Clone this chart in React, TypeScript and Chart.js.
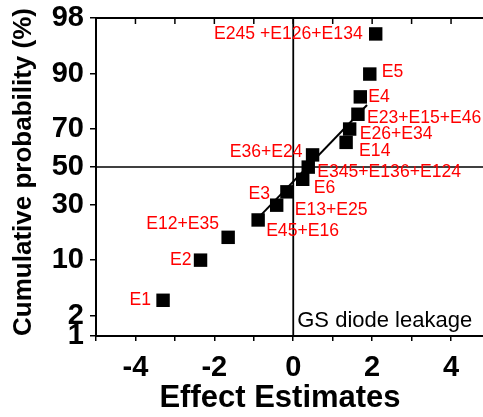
import React, { useEffect, useRef } from 'react';
import { Chart, registerables } from 'chart.js';

Chart.register(...registerables);

// ---- data ----
const effectLabels = [
  'E1', 'E2', 'E12+E35', 'E45+E16', 'E13+E25', 'E3', 'E6', 'E345+E136+E124',
  'E36+E24', 'E14', 'E26+E34', 'E23+E15+E46', 'E4', 'E5', 'E245 +E126+E134',
];
const effectValues = [-3.30, -2.35, -1.65, -0.89, -0.42, -0.16, 0.24, 0.38, 0.49, 1.34, 1.43, 1.64, 1.70, 1.94, 2.09];
const cumulativePercent = [3.33, 10, 16.67, 23.33, 30, 36.67, 43.33, 50, 56.67, 63.33, 70, 76.67, 83.33, 90, 96.67];
const fitEffects = [-0.9, 1.87];
const fitPercent = [24.0, 80.4];
const yTickPercents = [1, 2, 10, 30, 50, 70, 90, 98];
const xTickValues = [-5, -4, -3, -2, -1, 0, 1, 2, 3, 4];
const xLabelledTicks = [-4, -2, 0, 2, 4];

// ---- label placement (style): [dx, dy, align] ----
const labelOffsets: [number, number, CanvasTextAlign][] = [
  [-12, 0, 'right'], [-9, 0, 'right'], [-9, -13, 'right'], [8, 11, 'left'], [18, 5, 'left'],
  [-17, 2, 'right'], [11, 9, 'left'], [9, 5, 'left'], [-10, -3, 'right'], [13, 9, 'left'],
  [10, 5, 'left'], [9, 4, 'left'], [8, 0, 'left'], [12, -2, 'left'], [-13, 0, 'right'],
];

const FONT = '"Liberation Sans", Arial, sans-serif';

function probit(p: number): number {
  const a = [-3.969683028665376e1, 2.209460984245205e2, -2.759285104469687e2, 1.38357751867269e2, -3.066479806614716e1, 2.506628277459239];
  const b = [-5.447609879822406e1, 1.615858368580409e2, -1.556989798598866e2, 6.680131188771972e1, -1.328068155288572e1];
  const c = [-7.784894002430293e-3, -3.223964580411365e-1, -2.400758277161838, -2.549732539343734, 4.374664141464968, 2.938163982698783];
  const d = [7.784695709041462e-3, 3.224671290700398e-1, 2.445134137142996, 3.754408661907416];
  const pl = 0.02425;
  const ph = 1 - pl;
  let q: number;
  let r: number;
  if (p < pl) {
    q = Math.sqrt(-2 * Math.log(p));
    return (((((c[0] * q + c[1]) * q + c[2]) * q + c[3]) * q + c[4]) * q + c[5]) / ((((d[0] * q + d[1]) * q + d[2]) * q + d[3]) * q + 1);
  }
  if (p <= ph) {
    q = p - 0.5;
    r = q * q;
    return ((((((a[0] * r + a[1]) * r + a[2]) * r + a[3]) * r + a[4]) * r + a[5]) * q) / (((((b[0] * r + b[1]) * r + b[2]) * r + b[3]) * r + b[4]) * r + 1);
  }
  q = Math.sqrt(-2 * Math.log(1 - p));
  return -(((((c[0] * q + c[1]) * q + c[2]) * q + c[3]) * q + c[4]) * q + c[5]) / ((((d[0] * q + d[1]) * q + d[2]) * q + d[3]) * q + 1);
}

const overlayPlugin = {
  id: 'overlay',
  beforeDatasetsDraw(chart: any) {
    const { ctx, chartArea, scales } = chart;
    const x = scales.x;
    const y = scales.y;
    ctx.save();
    ctx.strokeStyle = '#000';
    ctx.lineWidth = 1.8;
    const x0 = x.getPixelForValue(0);
    ctx.beginPath();
    ctx.moveTo(x0, chartArea.top);
    ctx.lineTo(x0, chartArea.bottom);
    ctx.stroke();
    const y50 = y.getPixelForValue(probit(0.5));
    ctx.lineWidth = 1.5;
    ctx.beginPath();
    ctx.moveTo(chartArea.left, y50);
    ctx.lineTo(chartArea.right, y50);
    ctx.stroke();
    // top frame with inward ticks
    ctx.lineWidth = 2;
    ctx.beginPath();
    ctx.moveTo(chartArea.left - 1, chartArea.top);
    ctx.lineTo(chartArea.right, chartArea.top);
    ctx.stroke();
    ctx.lineWidth = 1.5;
    for (const v of xTickValues) {
      const px = x.getPixelForValue(v);
      ctx.beginPath();
      ctx.moveTo(px, chartArea.top);
      ctx.lineTo(px, chartArea.top + 6);
      ctx.stroke();
    }
    ctx.restore();
  },
  afterDatasetsDraw(chart: any) {
    const { ctx, chartArea, scales } = chart;
    const x = scales.x;
    const y = scales.y;
    ctx.save();
    ctx.fillStyle = '#ff0000';
    ctx.font = `17.6px ${FONT}`;
    ctx.textBaseline = 'middle';
    effectLabels.forEach((lab, i) => {
      const px = x.getPixelForValue(effectValues[i]);
      const py = y.getPixelForValue(probit(cumulativePercent[i] / 100));
      const [dx, dy, al] = labelOffsets[i];
      ctx.textAlign = al;
      ctx.fillText(lab, px + dx, py + dy);
    });
    ctx.fillStyle = '#000';
    ctx.font = `22px ${FONT}`;
    ctx.textAlign = 'left';
    ctx.textBaseline = 'alphabetic';
    ctx.fillText('GS diode leakage', x.getPixelForValue(0) + 4, chartArea.bottom - 9);
    ctx.restore();
  },
  afterDraw(chart: any) {
    const { ctx } = chart;
    ctx.save();
    ctx.fillStyle = '#000';
    ctx.font = `bold 31px ${FONT}`;
    ctx.textAlign = 'center';
    ctx.textBaseline = 'alphabetic';
    ctx.fillText('Effect Estimates', 280, 406.5);
    ctx.translate(24, 172);
    ctx.rotate(-Math.PI / 2);
    ctx.font = `bold 26px ${FONT}`;
    ctx.textBaseline = 'middle';
    ctx.fillText('Cumulative probability (%)', 0, 0);
    ctx.restore();
  },
};

export default function App() {
  const canvasRef = useRef<HTMLCanvasElement | null>(null);

  useEffect(() => {
    if (!canvasRef.current) return;
    const chart = new Chart(canvasRef.current, {
      type: 'scatter',
      data: {
        datasets: [
          {
            type: 'line',
            data: fitEffects.map((v, i) => ({ x: v, y: probit(fitPercent[i] / 100) })),
            borderColor: '#000',
            borderWidth: 2,
            pointRadius: 0,
            fill: false,
          } as any,
          {
            data: effectValues.map((v, i) => ({ x: v, y: probit(cumulativePercent[i] / 100) })),
            pointStyle: 'rect',
            pointRadius: 9.5,
            backgroundColor: '#000',
            borderColor: '#000',
            borderWidth: 0,
          },
        ],
      },
      options: {
        animation: false,
        responsive: true,
        maintainAspectRatio: false,
        layout: { autoPadding: false, padding: { top: 18, right: 0, left: 0, bottom: 0 } },
        plugins: { legend: { display: false }, tooltip: { enabled: false } },
        scales: {
          x: {
            type: 'linear',
            position: 'bottom',
            min: -5,
            max: 4.81,
            afterBuildTicks: (s: any) => {
              s.ticks = xTickValues.map((v) => ({ value: v }));
            },
            afterFit: (s: any) => {
              s.height = 81;
              s.paddingLeft = 0;
              s.paddingRight = 0;
            },
            ticks: {
              autoSkip: false,
              maxRotation: 0,
              padding: 10,
              color: '#000',
              font: { family: FONT, size: 29, weight: 'bold' },
              callback: (v: any) => (xLabelledTicks.includes(Number(v)) ? String(v) : ''),
            },
            grid: { drawOnChartArea: false, drawTicks: true, tickLength: 5, color: '#000', lineWidth: 1.5 },
            border: { display: true, color: '#000', width: 2 },
          },
          y: {
            type: 'linear',
            position: 'left',
            min: probit(yTickPercents[0] / 100),
            max: probit(yTickPercents[yTickPercents.length - 1] / 100),
            afterBuildTicks: (s: any) => {
              s.ticks = yTickPercents.map((p) => ({ value: probit(p / 100) }));
            },
            afterFit: (s: any) => {
              s.width = 96;
              s.paddingTop = 0;
              s.paddingBottom = 0;
            },
            ticks: {
              autoSkip: false,
              padding: 6,
              color: '#000',
              font: { family: FONT, size: 29, weight: 'bold' },
              callback: (_v: any, i: number) => String(yTickPercents[i]),
            },
            grid: { drawOnChartArea: false, drawTicks: true, tickLength: 6, color: '#000', lineWidth: 1.5 },
            border: { display: true, color: '#000', width: 2 },
          },
        },
      },
      plugins: [overlayPlugin],
    });
    return () => chart.destroy();
  }, []);

  return (
    <div style={{ position: 'fixed', left: 0, top: 0, width: 483, height: 417, background: '#fff' }}>
      <canvas ref={canvasRef} />
    </div>
  );
}
